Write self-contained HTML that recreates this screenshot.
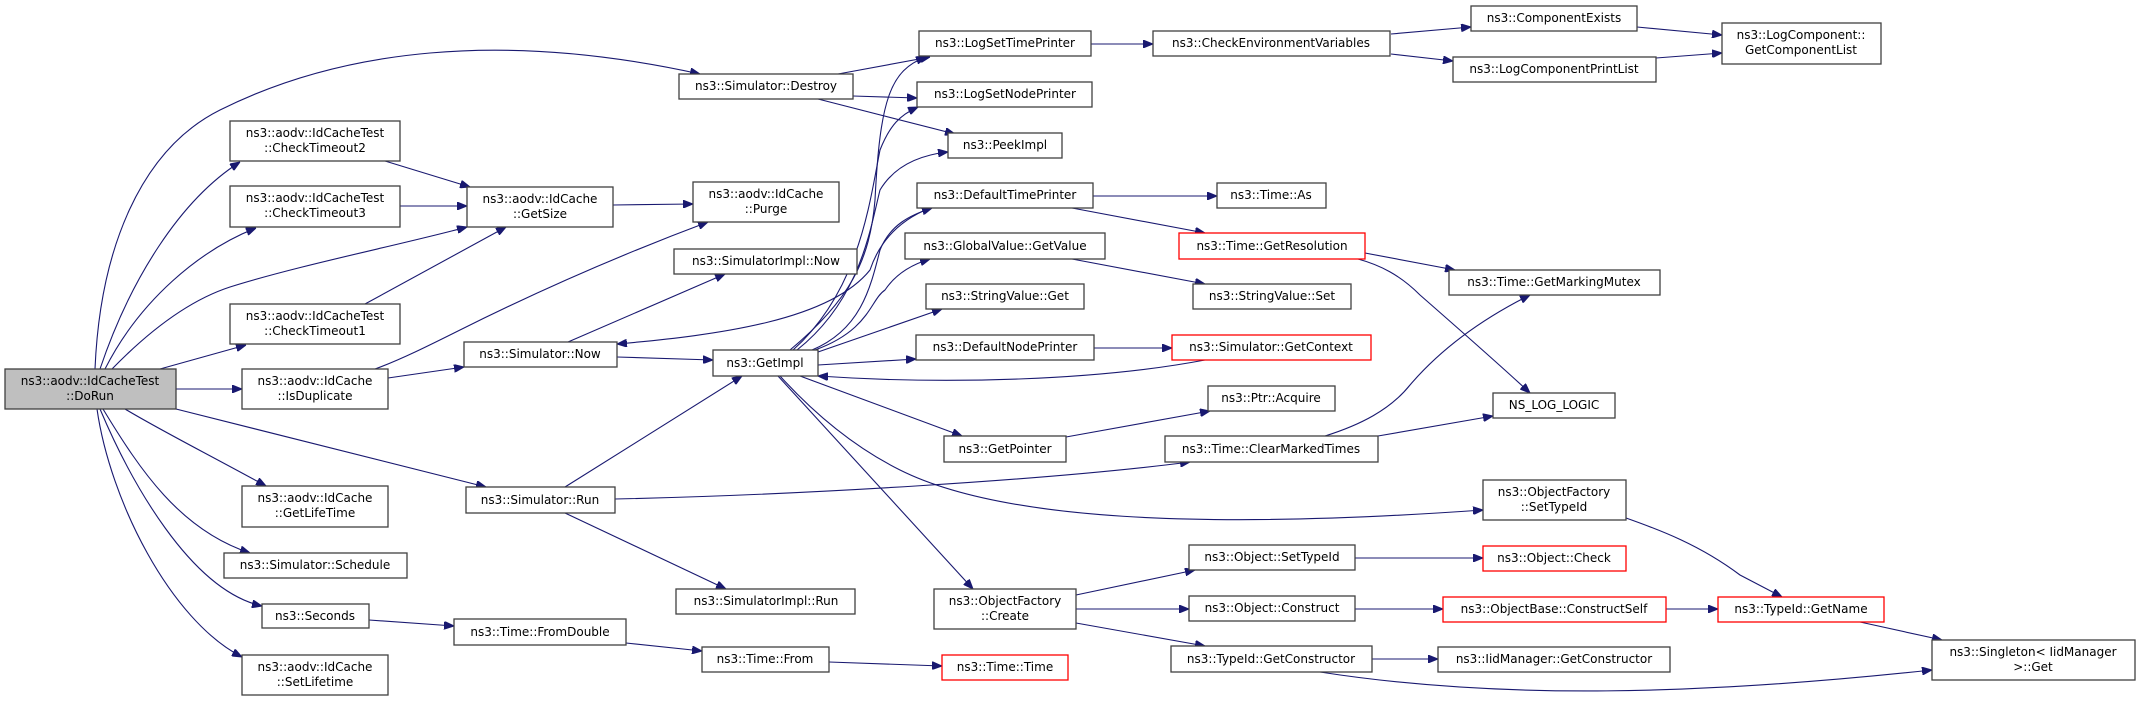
<!DOCTYPE html>
<html><head><meta charset="utf-8"><style>
html,body{margin:0;padding:0;background:#fff;}
svg{display:block;}
text{font-family:"DejaVu Sans","Liberation Sans",sans-serif;font-size:12px;fill:#000;text-anchor:middle;}
rect{fill:#fff;stroke:#404040;stroke-width:1.3;}
rect.r{stroke:#ff0000;}
rect.g{fill:#bfbfbf;}
path{fill:none;stroke:#191970;stroke-width:1.1;}
</style></head><body>
<svg width="2140" height="701" viewBox="0 0 2140 701" xmlns="http://www.w3.org/2000/svg">
<defs><marker id="a" markerWidth="10" markerHeight="8" refX="10" refY="4" orient="auto" markerUnits="userSpaceOnUse"><path d="M0,0 L10,4 L0,8 Z" style="fill:#191970;stroke:#191970;stroke-width:1"/></marker></defs>
<g marker-end="url(#a)">
<path d="M95,369 C100,250 140,150 220,110 C340,50 500,30 700,74" marker-end="url(#a)"/>
<path d="M100,369 C130,280 180,200 240,162" marker-end="url(#a)"/>
<path d="M105,369 C140,300 200,250 256,228" marker-end="url(#a)"/>
<path d="M112,369 C150,330 190,300 230,287 C300,265 400,245 467,227" marker-end="url(#a)"/>
<path d="M160,369 L246,345" marker-end="url(#a)"/>
<path d="M176,389 L242,389" marker-end="url(#a)"/>
<path d="M176,409 L486,487" marker-end="url(#a)"/>
<path d="M125,409 C160,430 200,450 266,486" marker-end="url(#a)"/>
<path d="M103,409 C140,470 180,530 250,553" marker-end="url(#a)"/>
<path d="M100,409 C130,480 190,590 262,606" marker-end="url(#a)"/>
<path d="M97,409 C110,500 170,620 242,657" marker-end="url(#a)"/>
<path d="M385,161 L470,187" marker-end="url(#a)"/>
<path d="M400,206 L467,206" marker-end="url(#a)"/>
<path d="M365,304 L506,227" marker-end="url(#a)"/>
<path d="M613,205 L693,204" marker-end="url(#a)"/>
<path d="M375,369 C400,360 430,345 460,330 C540,290 620,255 708,222" marker-end="url(#a)"/>
<path d="M388,378 L464,367" marker-end="url(#a)"/>
<path d="M568,342 L725,274" marker-end="url(#a)"/>
<path d="M617,357 L713,360" marker-end="url(#a)"/>
<path d="M930,208 C900,220 880,240 870,270 C830,320 720,335 617,344" marker-end="url(#a)"/>
<path d="M565,487 L742,376" marker-end="url(#a)"/>
<path d="M615,499 C800,495 1050,480 1190,462" marker-end="url(#a)"/>
<path d="M565,513 L726,589" marker-end="url(#a)"/>
<path d="M369,620 L454,626" marker-end="url(#a)"/>
<path d="M626,643 L702,651" marker-end="url(#a)"/>
<path d="M829,662 L942,666" marker-end="url(#a)"/>
<path d="M838,74 L930,57" marker-end="url(#a)"/>
<path d="M853,96 L917,98" marker-end="url(#a)"/>
<path d="M818,99 L955,134" marker-end="url(#a)"/>
<path d="M790,350 C850,300 870,260 875,200 C880,100 890,70 926,57" marker-end="url(#a)"/>
<path d="M793,350 C860,290 870,200 880,150 C890,125 900,115 918,107" marker-end="url(#a)"/>
<path d="M797,350 C860,300 870,230 880,190 C895,165 920,155 948,152" marker-end="url(#a)"/>
<path d="M812,350 C860,330 870,290 880,250 C890,225 910,215 932,208" marker-end="url(#a)"/>
<path d="M815,350 C870,330 870,300 885,290 C895,275 910,265 930,259" marker-end="url(#a)"/>
<path d="M818,352 L942,309" marker-end="url(#a)"/>
<path d="M818,365 L916,359" marker-end="url(#a)"/>
<path d="M1205,360 C1100,380 950,385 818,376" marker-end="url(#a)"/>
<path d="M800,376 L962,436" marker-end="url(#a)"/>
<path d="M778,376 L973,589" marker-end="url(#a)"/>
<path d="M780,376 C820,420 860,450 900,470 C1000,520 1200,530 1483,510" marker-end="url(#a)"/>
<path d="M1093,196 L1217,196" marker-end="url(#a)"/>
<path d="M1072,208 L1205,233" marker-end="url(#a)"/>
<path d="M1072,259 L1205,284" marker-end="url(#a)"/>
<path d="M1094,348 L1172,348" marker-end="url(#a)"/>
<path d="M1066,437 L1210,411" marker-end="url(#a)"/>
<path d="M1365,253 L1455,270" marker-end="url(#a)"/>
<path d="M1358,259 C1380,265 1400,275 1420,295 C1460,330 1500,365 1530,393" marker-end="url(#a)"/>
<path d="M1325,436 C1360,425 1390,410 1410,385 C1440,350 1480,320 1530,295" marker-end="url(#a)"/>
<path d="M1378,436 L1493,416" marker-end="url(#a)"/>
<path d="M1391,34 L1471,27" marker-end="url(#a)"/>
<path d="M1391,54 L1453,61" marker-end="url(#a)"/>
<path d="M1637,27 L1722,35" marker-end="url(#a)"/>
<path d="M1656,58 L1722,53" marker-end="url(#a)"/>
<path d="M1091,44 L1153,44" marker-end="url(#a)"/>
<path d="M1076,595 L1195,570" marker-end="url(#a)"/>
<path d="M1076,609 L1189,609" marker-end="url(#a)"/>
<path d="M1076,623 L1205,646" marker-end="url(#a)"/>
<path d="M1355,558 L1483,558" marker-end="url(#a)"/>
<path d="M1355,609 L1443,609" marker-end="url(#a)"/>
<path d="M1666,609 L1718,609" marker-end="url(#a)"/>
<path d="M1626,518 C1660,530 1700,545 1740,575 L1782,597" marker-end="url(#a)"/>
<path d="M1860,622 L1942,640" marker-end="url(#a)"/>
<path d="M1372,659 L1438,659" marker-end="url(#a)"/>
<path d="M1320,672 C1500,700 1700,695 1932,670" marker-end="url(#a)"/>
</g>

<rect class="g" x="5" y="369" width="171" height="40"/><text x="90" y="385">ns3::aodv::IdCacheTest</text><text x="90" y="400">::DoRun</text>
<rect x="230" y="121" width="170" height="40"/><text x="315" y="137">ns3::aodv::IdCacheTest</text><text x="315" y="152">::CheckTimeout2</text>
<rect x="230" y="186" width="170" height="41"/><text x="315" y="202">ns3::aodv::IdCacheTest</text><text x="315" y="217">::CheckTimeout3</text>
<rect x="230" y="304" width="170" height="40"/><text x="315" y="320">ns3::aodv::IdCacheTest</text><text x="315" y="335">::CheckTimeout1</text>
<rect x="467" y="187" width="146" height="40"/><text x="540" y="203">ns3::aodv::IdCache</text><text x="540" y="218">::GetSize</text>
<rect x="242" y="369" width="146" height="40"/><text x="315" y="385">ns3::aodv::IdCache</text><text x="315" y="400">::IsDuplicate</text>
<rect x="242" y="486" width="146" height="41"/><text x="315" y="502">ns3::aodv::IdCache</text><text x="315" y="517">::GetLifeTime</text>
<rect x="224" y="553" width="183" height="25"/><text x="315" y="569">ns3::Simulator::Schedule</text>
<rect x="262" y="604" width="107" height="24"/><text x="315" y="620">ns3::Seconds</text>
<rect x="242" y="655" width="146" height="40"/><text x="315" y="671">ns3::aodv::IdCache</text><text x="315" y="686">::SetLifetime</text>
<rect x="464" y="342" width="153" height="25"/><text x="540" y="358">ns3::Simulator::Now</text>
<rect x="466" y="487" width="149" height="26"/><text x="540" y="504">ns3::Simulator::Run</text>
<rect x="454" y="619" width="172" height="26"/><text x="540" y="636">ns3::Time::FromDouble</text>
<rect x="679" y="74" width="174" height="25"/><text x="766" y="90">ns3::Simulator::Destroy</text>
<rect x="919" y="31" width="172" height="25"/><text x="1005" y="47">ns3::LogSetTimePrinter</text>
<rect x="1153" y="31" width="237" height="25"/><text x="1271" y="47">ns3::CheckEnvironmentVariables</text>
<rect x="917" y="82" width="175" height="25"/><text x="1005" y="98">ns3::LogSetNodePrinter</text>
<rect x="948" y="133" width="114" height="25"/><text x="1005" y="149">ns3::PeekImpl</text>
<rect x="693" y="182" width="146" height="40"/><text x="766" y="198">ns3::aodv::IdCache</text><text x="766" y="213">::Purge</text>
<rect x="674" y="249" width="183" height="25"/><text x="766" y="265">ns3::SimulatorImpl::Now</text>
<rect x="917" y="183" width="176" height="25"/><text x="1005" y="199">ns3::DefaultTimePrinter</text>
<rect x="1217" y="183" width="109" height="25"/><text x="1271" y="199">ns3::Time::As</text>
<rect x="905" y="233" width="200" height="26"/><text x="1005" y="250">ns3::GlobalValue::GetValue</text>
<rect class="r" x="1179" y="233" width="186" height="26"/><text x="1272" y="250">ns3::Time::GetResolution</text>
<rect x="926" y="284" width="158" height="25"/><text x="1005" y="300">ns3::StringValue::Get</text>
<rect x="1193" y="284" width="158" height="25"/><text x="1272" y="300">ns3::StringValue::Set</text>
<rect x="713" y="350" width="105" height="26"/><text x="765" y="367">ns3::GetImpl</text>
<rect x="916" y="335" width="178" height="25"/><text x="1005" y="351">ns3::DefaultNodePrinter</text>
<rect class="r" x="1172" y="335" width="199" height="25"/><text x="1271" y="351">ns3::Simulator::GetContext</text>
<rect x="1208" y="386" width="127" height="25"/><text x="1271" y="402">ns3::Ptr::Acquire</text>
<rect x="944" y="436" width="122" height="26"/><text x="1005" y="453">ns3::GetPointer</text>
<rect x="1165" y="436" width="213" height="26"/><text x="1271" y="453">ns3::Time::ClearMarkedTimes</text>
<rect x="676" y="589" width="179" height="25"/><text x="766" y="605">ns3::SimulatorImpl::Run</text>
<rect x="934" y="589" width="142" height="40"/><text x="1005" y="605">ns3::ObjectFactory</text><text x="1005" y="620">::Create</text>
<rect x="1189" y="545" width="166" height="25"/><text x="1272" y="561">ns3::Object::SetTypeId</text>
<rect x="1189" y="596" width="166" height="25"/><text x="1272" y="612">ns3::Object::Construct</text>
<rect x="1171" y="646" width="201" height="26"/><text x="1271" y="663">ns3::TypeId::GetConstructor</text>
<rect x="702" y="647" width="127" height="25"/><text x="765" y="663">ns3::Time::From</text>
<rect class="r" x="942" y="655" width="126" height="25"/><text x="1005" y="671">ns3::Time::Time</text>
<rect x="1471" y="6" width="166" height="25"/><text x="1554" y="22">ns3::ComponentExists</text>
<rect x="1453" y="57" width="203" height="25"/><text x="1554" y="73">ns3::LogComponentPrintList</text>
<rect x="1722" y="23" width="159" height="41"/><text x="1801" y="39">ns3::LogComponent::</text><text x="1801" y="54">GetComponentList</text>
<rect x="1449" y="270" width="211" height="25"/><text x="1554" y="286">ns3::Time::GetMarkingMutex</text>
<rect x="1493" y="393" width="122" height="25"/><text x="1554" y="409">NS_LOG_LOGIC</text>
<rect x="1483" y="480" width="143" height="40"/><text x="1554" y="496">ns3::ObjectFactory</text><text x="1554" y="511">::SetTypeId</text>
<rect class="r" x="1483" y="546" width="143" height="25"/><text x="1554" y="562">ns3::Object::Check</text>
<rect class="r" x="1443" y="597" width="223" height="25"/><text x="1554" y="613">ns3::ObjectBase::ConstructSelf</text>
<rect class="r" x="1718" y="597" width="166" height="25"/><text x="1801" y="613">ns3::TypeId::GetName</text>
<rect x="1438" y="647" width="232" height="25"/><text x="1554" y="663">ns3::IidManager::GetConstructor</text>
<rect x="1932" y="640" width="203" height="40"/><text x="2033" y="656">ns3::Singleton&lt; IidManager</text><text x="2033" y="671">&gt;::Get</text>
</svg>
</body></html>
